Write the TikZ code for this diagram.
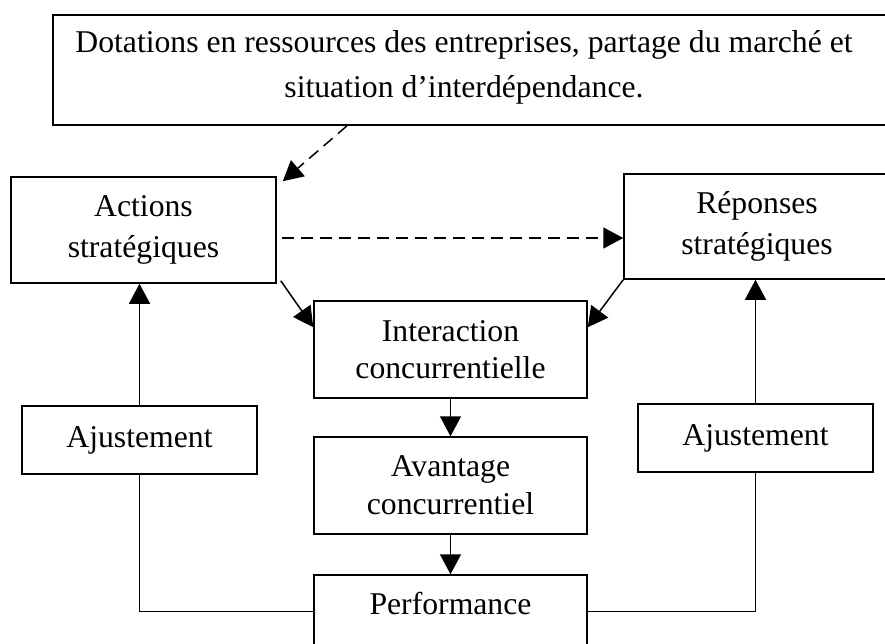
\documentclass[tikz,border=0pt]{standalone}
\usepackage{fontspec}
\setmainfont{Liberation Serif}
\usetikzlibrary{arrows.meta,calc}
\begin{document}
\begin{tikzpicture}[x=1pt,y=-1pt,
  txt/.style={font=\fontsize{31.7}{41}\selectfont, align=center},
  box/.style={txt, draw, line width=1.5pt, rectangle, inner sep=0pt},
  conn/.style={line width=1.5pt, -{Triangle[length=20pt,width=21pt]}},
  dconn/.style={conn, dash pattern=on 12pt off 7pt},
  link/.style={line width=1.5pt}]
\useasboundingbox (0,0) rectangle (885,643);
\clip (0,0) rectangle (885,643);

% frame and text of the heading box
\node (topbox) [draw, line width=1.8pt, minimum width=853, minimum height=110, anchor=north west, inner sep=0pt] at (52,14) {};
\node (toptext) [txt, font=\fontsize{31.7}{45}\selectfont] at (464,67.5)
  {Dotations en ressources des entreprises, partage du marché et\\situation d’interdépendance.};

% strategic boxes
\node (act) [box, minimum width=265, minimum height=106] at (143.5,230) {Actions\\stratégiques};
\node (rep) [box, minimum width=266, minimum height=105] at (757,226.5) {Réponses\\stratégiques};

% central column
\node (inter) [box, font=\fontsize{31.7}{37}\selectfont, minimum width=273, minimum height=97] at (450.5,349.5) {Interaction\\concurrentielle};
\node (avant) [box, font=\fontsize{31.7}{38}\selectfont, minimum width=273, minimum height=97] at (450.5,485.5) {Avantage\\concurrentiel};
\node (perf) [box, minimum width=273, minimum height=97] at (450.5,623.5) {Performance\\\mbox{}};

% adjustment boxes
\node (adjL) [box, minimum width=235, minimum height=68] at (139.5,440) {Ajustement};
\node (adjR) [box, minimum width=235, minimum height=68] at (755.5,438) {Ajustement};

% connectors
\draw[dconn] ($(topbox.south west)+(295,0)$) -- ($(act.north east)+(6,5)$);
\draw[dconn] ($(act.east)+(5,8)$) -- ($(rep.west)+(0,11.5)$);
\draw[conn] ($(act.south east)+(4,-3)$) -- ($(inter.north west)+(0,27)$);
\draw[conn] (rep.south west) -- ($(inter.north east)+(0,27)$);
\draw[conn] (inter.south) -- (avant.north);
\draw[conn] (avant.south) -- (perf.north);
\draw[conn] (adjL.north) -- (adjL.north |- act.south);
\draw[conn] (adjR.north) -- (adjR.north |- rep.south);
\draw[link] (adjL.south) |- ($(perf.north west)+(0,37)$);
\draw[link] (adjR.south) |- ($(perf.north east)+(0,37)$);
\end{tikzpicture}
\end{document}
